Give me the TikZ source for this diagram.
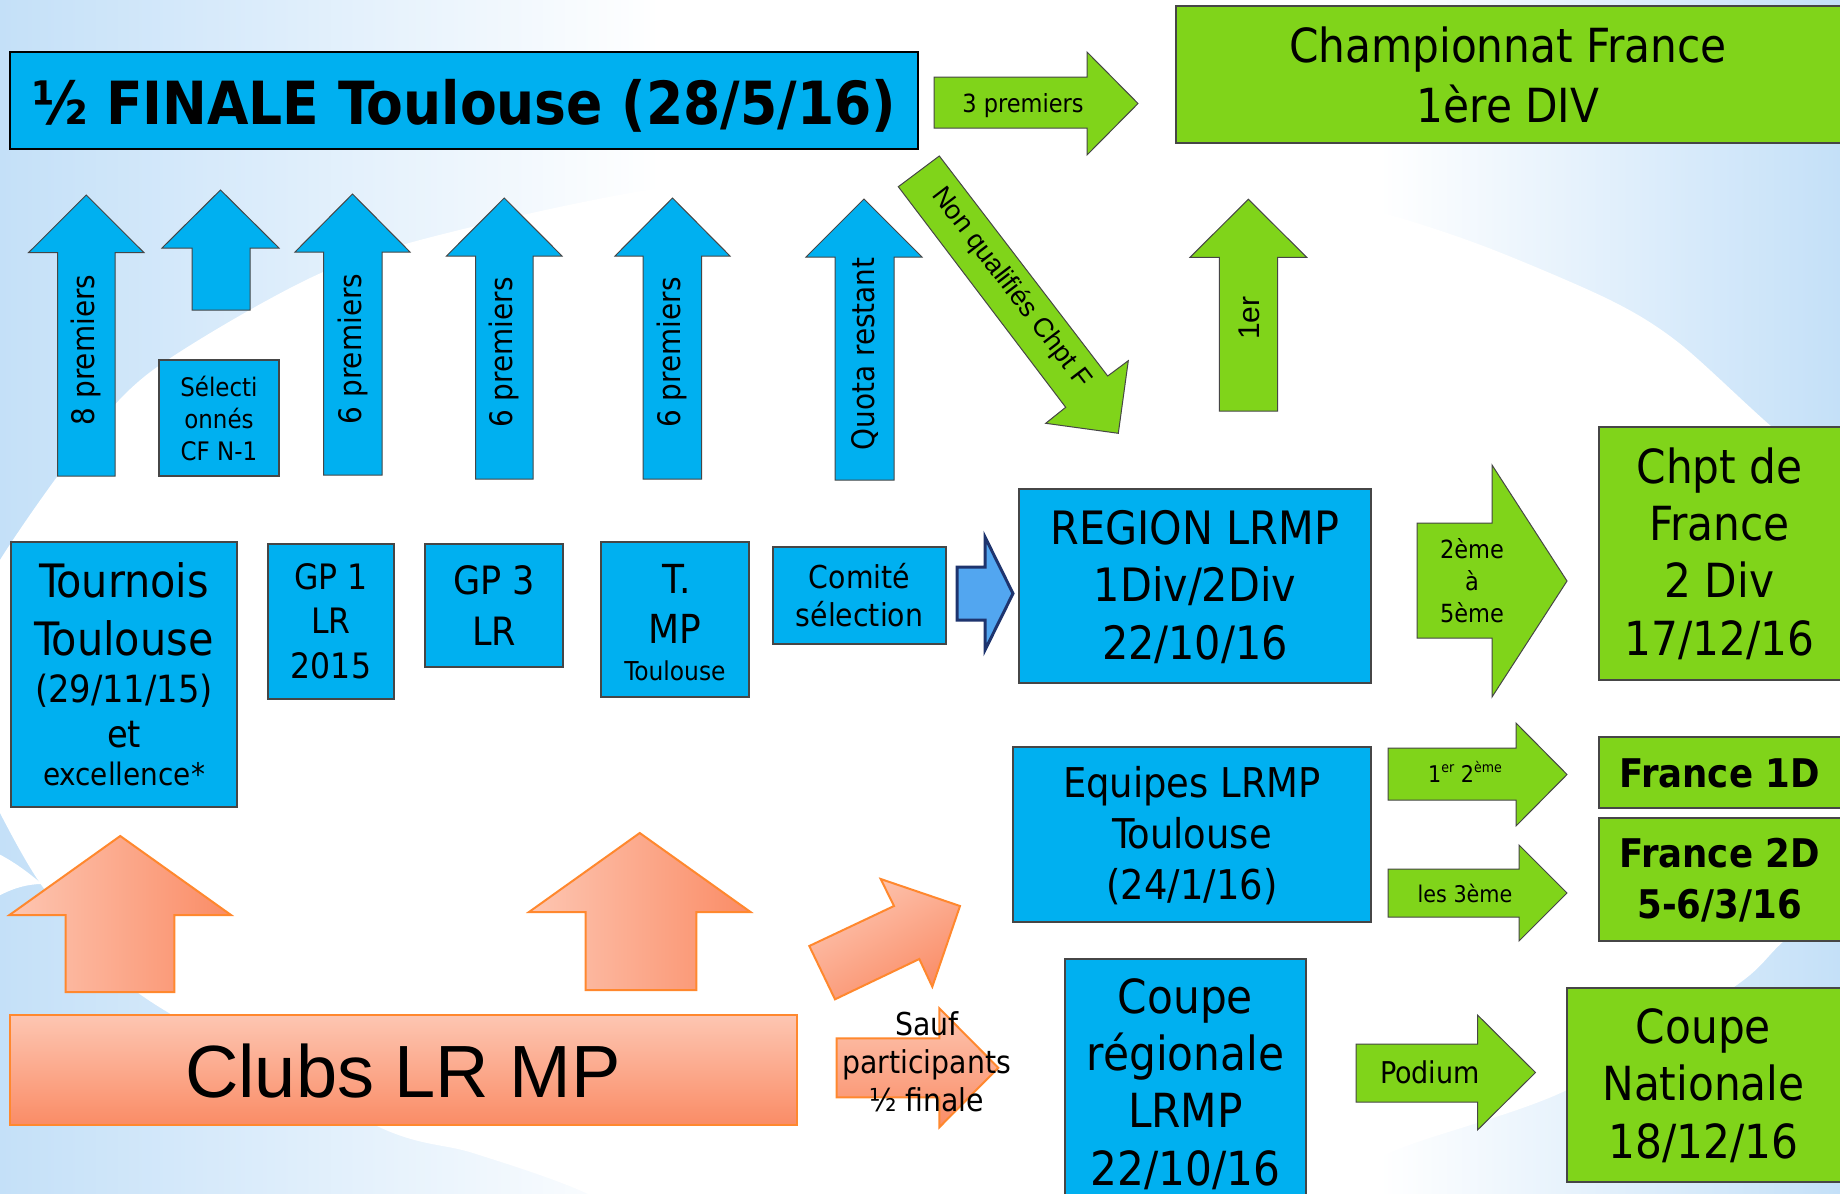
\documentclass[tikz,border=0pt]{standalone}
\usepackage{fontspec}
\setmainfont{DejaVu Sans Condensed}
\newfontfamily\arialf{Liberation Sans}
\definecolor{bgblue}{RGB}{196,224,248}
\definecolor{cyanb}{RGB}{0,176,240}
\definecolor{grn}{RGB}{128,212,26}
\definecolor{edgegray}{RGB}{70,70,70}
\definecolor{orl}{RGB}{253,198,178}
\definecolor{ord}{RGB}{250,140,102}
\definecolor{oredge}{RGB}{255,136,46}
\definecolor{comfill}{RGB}{82,166,240}
\definecolor{comedge}{RGB}{30,52,110}
\newcommand{\FS}[2]{\fontsize{#1pt}{#2pt}\selectfont}
% rectangle node from (x1,y1) to (x2,y2)
\newcommand{\RectNode}[6]{\node[#1, minimum width={#5-#3}, minimum height={#6-#4}] (#2) at ({(#3+#5)/2},{(#4+#6)/2}) {};}
% up arrow: style, head left, body left, body right, head right, tip y, head base y, bottom y
\newcommand{\UpArr}[8]{\draw[#1] (#3,#8) -- (#3,#7) -- (#2,#7) -- ({(#2+#5)/2},#6) -- (#5,#7) -- (#4,#7) -- (#4,#8) -- cycle;}
% right arrow: style, body left x, head base x, tip x, body top y, body bottom y, head top y, head bottom y
\newcommand{\RArr}[8]{\draw[#1] (#2,#5) -- (#3,#5) -- (#3,#7) -- (#4,{(#7+#8)/2}) -- (#3,#8) -- (#3,#6) -- (#2,#6) -- cycle;}
\tikzset{
  bluebox/.style={draw=edgegray, line width=1.2pt, fill=cyanb, inner sep=0pt},
  greenbox/.style={draw=edgegray, line width=1.2pt, fill=grn, inner sep=0pt},
  bluearr/.style={draw=edgegray, line width=1pt, fill=cyanb},
  grnarr/.style={draw=edgegray, line width=1pt, fill=grn},
  orarrh/.style={draw=oredge, line width=2pt, left color=orl, right color=ord},
  orarrv/.style={draw=oredge, line width=2pt, top color=orl, bottom color=ord},
  lbl/.style={anchor=base, align=center, inner sep=0pt, text=black},
  rlbl/.style={anchor=center, inner sep=0pt, text=black},
}
\begin{document}
\begin{tikzpicture}[x=1pt,y=-1pt]
\useasboundingbox (0,0) rectangle (1840,1194);
\clip (0,0) rectangle (1840,1194);
% ---------- background ----------
\shade[left color=bgblue, right color=white] (0,0) rectangle (660,1194);
\fill[white] (659,0) rectangle (1381,1194);
\shade[left color=white, right color=bgblue] (1380,0) rectangle (1840,1194);
\fill[white] plot[smooth cycle, tension=0.5] coordinates {
  (-40,640) (0,560) (76,452) (153,370) (321,273) (480,225) (700,182) (1000,160)
  (1250,180) (1380,212) (1486,247) (1610,300) (1679,343) (1772,427) (1840,480) (1880,560)
  (1880,860) (1785,940) (1734,987) (1567,1090) (1404,1147) (1302,1194) (1150,1260)
  (700,1260) (588,1194) (473,1153) (379,1127) (169,1013) (101,960) (40,883)
  (0,813) (-40,730)};
\fill[white] (-5,852) .. controls (15,862) and (30,874) .. (42,884) .. controls (28,884) and (12,888) .. (-5,898) -- cycle;

% ---------- top row ----------
\RectNode{draw=black, line width=2.5pt, fill=cyanb, inner sep=0pt}{half}{10}{52}{918}{149}
\node[lbl, font=\bfseries\FS{59.5}{70}] (halft) at (464,124) {½ FINALE Toulouse (28/5/16)};

\RArr{grnarr}{934}{1087}{1138}{77}{128}{52}{155}
\node[lbl, font=\FS{25}{30}] (t3p) at (1023,112) {3 premiers};

\RectNode{greenbox}{cf1}{1176}{6}{1850}{143}
\node[lbl, font=\FS{47}{60}] (cf1t) at (1508,122) {Championnat France\\1ère DIV};

% ---------- blue up arrows ----------
\UpArr{bluearr}{28.5}{57.6}{115}{144}{195}{252.7}{476}
\UpArr{bluearr}{162}{192}{250}{279}{190}{248}{310}
\UpArr{bluearr}{295}{323.5}{382}{410}{194}{252}{475}
\UpArr{bluearr}{446.5}{475.6}{533}{562}{198}{256}{479}
\UpArr{bluearr}{615}{643}{701.6}{730}{198}{256}{479}
\UpArr{bluearr}{806}{835}{894}{922}{199}{257}{480}
\node[rlbl, rotate=90, font=\FS{31}{37}] (ta) at (86.3,350) {8 premiers};
\node[rlbl, rotate=90, font=\FS{31}{37}] (tc) at (352.7,349) {6 premiers};
\node[rlbl, rotate=90, font=\FS{31}{37}] (td) at (504.3,352.5) {6 premiers};
\node[rlbl, rotate=90, font=\FS{31}{37}] (te) at (672.3,352.5) {6 premiers};
\node[rlbl, rotate=90, font=\FS{31}{37}] (tf) at (864.5,354) {Quota restant};

\RectNode{bluebox}{sel}{159}{360}{279}{476}
\node[lbl, font=\FS{25.5}{32}] (selt) at (219,460) {Sélecti\\onnés\\CF N-1};

% green non qualifies arrow
\draw[grnarr] (898.3,186.7) -- (939.3,156) -- (1107.7,376) -- (1128.3,360.7) -- (1118.3,433.3) -- (1045.7,423.3) -- (1065.7,407.3) -- cycle;
\node[rlbl, rotate=-52.6, font=\arialf\FS{27}{32}] (nqt) at (1011,288) {Non qualifiés Chpt F};

% green 1er arrow
\UpArr{grnarr}{1190}{1219.3}{1277.7}{1306.7}{199.3}{257.3}{411}
\node[rlbl, rotate=90, font=\arialf\FS{30}{36}] (t1er) at (1249,318) {1er};

% ---------- middle row ----------
\RectNode{bluebox}{tour}{11}{542}{237}{807}
\node[lbl, font=\FS{46}{54}] (tour1) at (124,597) {Tournois};
\node[lbl, font=\FS{46}{54}] (tour2) at (124,655) {Toulouse};
\node[lbl, font=\FS{37.5}{45}] (tour3) at (124,702) {(29/11/15)};
\node[lbl, font=\FS{37.5}{45}] (tour4) at (124,747) {et};
\node[lbl, font=\FS{31}{37}] (tour5) at (124,785) {excellence*};

\RectNode{bluebox}{gp1}{268}{544}{394}{699}
\node[lbl, font=\FS{35}{44.5}] (gp1t) at (331,678) {GP 1\\LR\\2015};

\RectNode{bluebox}{gp3}{425}{544}{563}{667}
\node[lbl, font=\FS{39}{51}] (gp3t) at (494,645) {GP 3\\LR};

\RectNode{bluebox}{tmp}{601}{542}{749}{697}
\node[lbl, font=\FS{40}{48}] (tmp1) at (677,593) {T.};
\node[lbl, font=\FS{40}{48}] (tmp2) at (675,643) {MP};
\node[lbl, font=\FS{26}{31}] (tmp3) at (675,680) {Toulouse};

\RectNode{bluebox}{com}{773}{547}{946}{644}
\node[lbl, font=\FS{31.5}{38}] (comt) at (859.5,626) {Comité\\sélection};

\RArr{draw=comedge, line width=3pt, fill=comfill, line join=miter}{957}{985}{1013}{567}{620}{537}{650}

\RectNode{bluebox}{reg}{1019}{489}{1371}{683}
\node[lbl, font=\FS{46}{57.5}] (regt) at (1195,659) {REGION LRMP\\1Div/2Div\\22/10/16};

\RArr{grnarr}{1417}{1492}{1567}{523}{638}{465}{697}
\node[lbl, font=\FS{25}{32}] (t25) at (1472,622) {2ème\\à\\5ème};

\RectNode{greenbox}{cf2}{1599}{427}{1850}{680}
\node[lbl, font=\FS{47}{57.3}] (cf2t) at (1719.5,655) {Chpt de\\France\\2 Div\\17/12/16};

% ---------- equipes ----------
\RectNode{bluebox}{equ}{1013}{747}{1371}{922}
\node[lbl, font=\FS{41}{51}] (equt) at (1192,899) {Equipes LRMP\\Toulouse\\(24/1/16)};

\RArr{grnarr}{1388}{1516}{1567}{748}{800}{723}{826}
\node[lbl, font=\FS{23}{28}] (t12) at (1465,782) {1\raisebox{0.42em}{\FS{14}{16}er} 2\raisebox{0.42em}{\FS{14}{16}ème}};

\RArr{grnarr}{1388}{1519}{1567}{869}{917}{845}{941}
\node[lbl, font=\FS{23}{28}] (t3e) at (1465,902) {les 3ème};

\RectNode{greenbox}{f1d}{1599}{737}{1850}{808}
\node[lbl, font=\bfseries\FS{39.5}{48}] (f1dt) at (1719.5,787) {France 1D};

\RectNode{greenbox}{f2d}{1599}{818}{1850}{941}
\node[lbl, font=\bfseries\FS{39.5}{51}] (f2dt) at (1719.5,918) {France 2D\\5-6/3/16};

% ---------- coupe ----------
\RectNode{bluebox}{cr}{1065}{959}{1306}{1240}
\node[lbl, font=\FS{47}{57.3}] (crt) at (1185.5,1185) {Coupe\\régionale\\LRMP\\22/10/16};

\RArr{grnarr}{1356}{1477.5}{1535.5}{1044}{1102}{1015}{1130}
\node[lbl, font=\FS{30}{36}] (tpod) at (1430,1083) {Podium};

\RectNode{greenbox}{cn}{1567}{988}{1850}{1182}
\node[lbl, font=\FS{47}{57.5}] (cnt) at (1703.5,1158) {Coupe\\Nationale\\18/12/16};

% ---------- orange ----------
\UpArr{orarrh}{9.5}{65.6}{174.4}{231}{836}{915}{992}
\UpArr{orarrh}{529}{585.5}{696.4}{750.5}{833}{912}{990}
\draw[orarrv, shading angle=30] (835,999.3) -- (809.3,946) -- (894,906) -- (880.7,879) -- (960,906) -- (932.3,986.7) -- (919.3,959) -- cycle;
\RArr{orarrv}{836.7}{939.3}{998.3}{1038.3}{1097.3}{1008.3}{1127.3}
\node[lbl, font=\FS{31.5}{38}] (sauft) at (926.7,1111) {Sauf\\participants\\½ finale};

\RectNode{draw=oredge, line width=2pt, top color=orl, bottom color=ord, inner sep=0pt}{clubs}{9.5}{1015}{796.5}{1125}
\node[lbl, font=\arialf\FS{74}{80}] (clubst) at (403,1097) {Clubs LR MP};
\end{tikzpicture}
\end{document}
